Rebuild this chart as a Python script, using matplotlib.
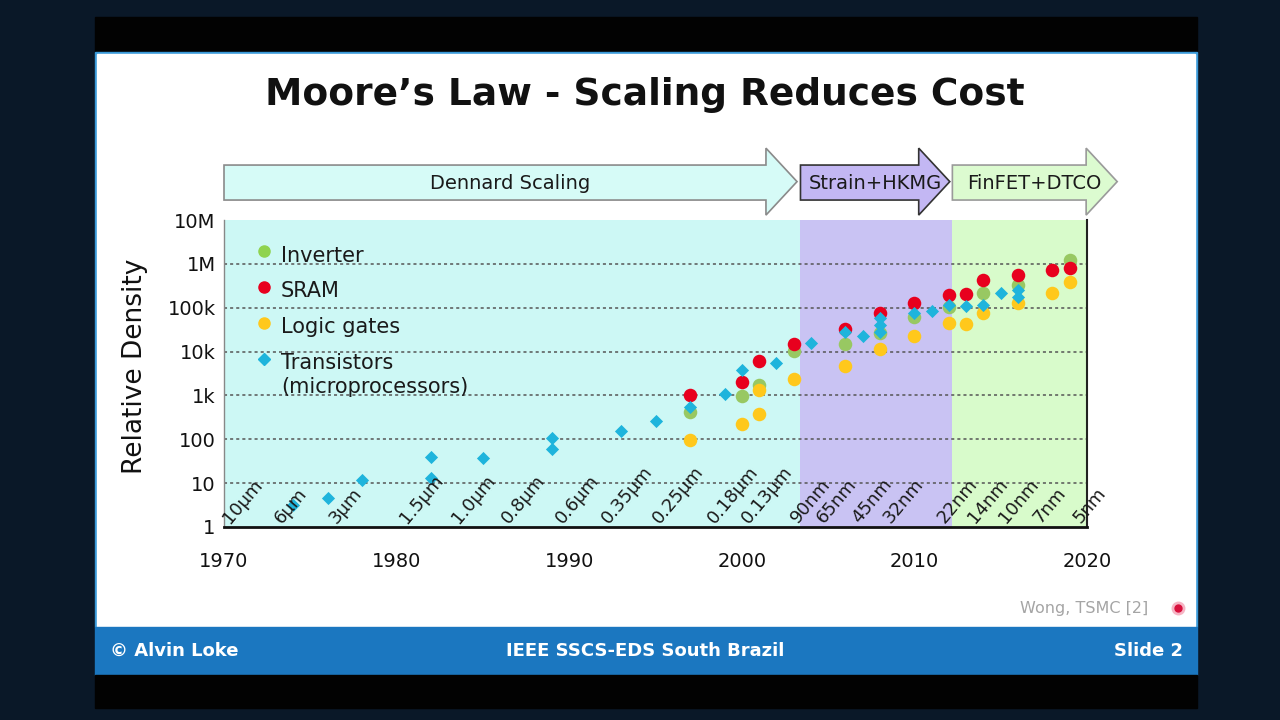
# Moore's Law slide - relative density vs year

import numpy as np
import matplotlib
matplotlib.use('Agg')
from matplotlib import pyplot as plt
from matplotlib.patches import Polygon, Rectangle
from matplotlib.lines import Line2D
from matplotlib.transforms import blended_transform_factory

# datos
years_inv = [1997, 2000, 2001, 2003, 2006, 2008, 2010, 2012, 2014, 2016, 2019]
inverter = [430, 950, 1750, 10500, 14700, 27000, 62000, 105000, 215000, 330000, 1230000]

years_sram = [1997, 2000, 2001, 2003, 2006, 2008, 2010, 2012, 2013, 2014, 2016, 2018, 2019]
sram = [1030, 2000, 6200, 15000, 32000, 75000, 126000, 196000, 205000, 425000, 560000, 725000, 820000]

years_logic = [1997, 2000, 2001, 2001, 2003, 2006, 2008, 2010, 2012, 2013, 2014, 2016, 2018, 2019]
logic = [97, 225, 1300, 380, 2400, 4700, 11300, 22800, 44000, 43500, 75000, 126000, 220000, 380000]

years_tr = [1974, 1976, 1978, 1982, 1982, 1985, 1989, 1989, 1993, 1995, 1997, 1999, 2000, 2002,
            2004, 2006, 2007, 2008, 2008, 2008, 2010, 2011, 2012, 2013, 2014, 2015, 2016, 2016]
transistors = [3.2, 4.7, 12, 39, 13, 38, 105, 60, 155, 255, 540, 1100, 3800, 5600,
               15500, 28500, 23000, 58000, 40000, 28000, 75000, 82000, 115000, 112000, 116000,
               220000, 250000, 180000]

nodes = ["10µm", "6µm", "3µm", "1.5µm", "1.0µm", "0.8µm", "0.6µm", "0.35µm", "0.25µm",
         "0.18µm", "0.13µm", "90nm", "65nm", "45nm", "32nm", "22nm", "14nm", "10nm", "7nm", "5nm"]
node_x = [1970.5, 1973.5, 1976.7, 1980.8, 1983.8, 1986.7, 1989.8, 1992.5, 1995.4, 1998.6,
          2000.6, 2003.4, 2004.9, 2007.0, 2008.8, 2011.9, 2013.7, 2015.5, 2017.5, 2019.8]

eras = ["Dennard Scaling", "Strain+HKMG", "FinFET+DTCO"]
era_start = [1970, 2003.4, 2012.2]
era_end = [2003.4, 2012.2, 2020]
arrow_tip = [2003.2, 2012.05, 2021.75]

ytick_vals = [1, 10, 100, 1e3, 1e4, 1e5, 1e6, 1e7]
ytick_labels = ["1", "10", "100", "1k", "10k", "100k", "1M", "10M"]
xtick_vals = [1970, 1980, 1990, 2000, 2010, 2020]

W, H = 1280, 720
fig = plt.figure(figsize=(12.8, 7.2), dpi=100, facecolor='#0a1828')

def px_rect(x0, y0, x1, y1, color):
    fig.add_artist(Rectangle((x0 / W, 1 - y1 / H), (x1 - x0) / W, (y1 - y0) / H,
                             transform=fig.transFigure, color=color, zorder=-5))

# marco de la diapositiva
px_rect(95, 17, 1197, 52, '#020202')
px_rect(95, 52, 1197, 627, '#3a9ad9')
px_rect(97, 54, 1195, 627, 'white')
px_rect(95, 627, 1197, 675, '#1b77c0')
px_rect(95, 675, 1197, 708, '#020202')

fig.text(0.504, 0.868, "Moore’s Law - Scaling Reduces Cost", ha='center', va='center',
         fontsize=27, fontweight='bold', color='#111111')

ax = fig.add_axes([224 / W, 1 - 527 / H, 863 / W, 307 / H])
ax.set_facecolor('none')
ax.set_yscale('log')
ax.set_xlim(1970, 2020)
ax.set_ylim(1, 1e7)

shade = ['#cdf8f5', '#c9c3f3', '#d8fbcb']
for s, e, c in zip(era_start, era_end, shade):
    ax.axvspan(s, e, color=c, lw=0, zorder=0)

for v in ytick_vals[1:-1]:
    ax.axhline(v, color='#555555', lw=1.1, ls=(0, (2, 2)), zorder=1)

ax.scatter(years_inv, inverter, s=95, color='#98c862', lw=0, zorder=3)
ax.scatter(years_sram, sram, s=95, color='#e8001e', lw=0, zorder=4)
ax.scatter(years_logic, logic, s=95, color='#ffc81c', lw=0, zorder=5)
ax.scatter(years_tr, transistors, s=45, marker='D', color='#1eb4dc', lw=0, zorder=6)

for lab, x in zip(nodes, node_x):
    ax.text(x, 1, lab, rotation=50, ha='left', va='bottom', rotation_mode='anchor',
            fontsize=13, color='#1a1a1a', zorder=7)

# leyenda
leg_y = [0.899, 0.782, 0.664, 0.547]
leg_txt_y = [0.883, 0.769, 0.651, 0.495]
leg_lab = ["Inverter", "SRAM", "Logic gates", "Transistors\n(microprocessors)"]
leg_col = ['#8fd34f', '#e8001e', '#ffc81c', '#1eb4dc']
leg_mk = ['o', 'o', 'o', 'D']
for yy, ty, lab, c, m in zip(leg_y, leg_txt_y, leg_lab, leg_col, leg_mk):
    ax.plot(0.046, yy, marker=m, ms=8 if m == 'o' else 6, color=c, transform=ax.transAxes,
            clip_on=False, zorder=8, lw=0)
    ax.text(0.066, ty, lab, transform=ax.transAxes, ha='left', va='center', fontsize=15,
            color='#1a1a1a', linespacing=1.25, zorder=8)

# flechas de las etapas
bt = blended_transform_factory(ax.transData, ax.transAxes)
arrow_fc = ['#d6fbf7', '#c3b7f3', '#dcfbd0']
arrow_ec = ['#8a8a8a', '#333333', '#9a9a9a']
for name, s, tip, fc, ec in zip(eras, era_start, arrow_tip, arrow_fc, arrow_ec):
    hb = tip - 1.8
    verts = [(s, 1.065), (hb, 1.065), (hb, 1.016), (tip, 1.125), (hb, 1.234), (hb, 1.179), (s, 1.179)]
    ax.add_patch(Polygon(verts, closed=True, transform=bt, fc=fc, ec=ec, lw=1.2,
                         clip_on=False, zorder=9))
    ax.text((s + tip) / 2, 1.12, name, transform=bt, ha='center', va='center', fontsize=14,
            color='#1a1a1a', zorder=10)

ax.set_yticks(ytick_vals)
ax.set_yticklabels(ytick_labels)
ax.set_xticks(xtick_vals)
ax.set_xticklabels([str(x) for x in xtick_vals])
ax.minorticks_off()
ax.tick_params(axis='both', length=0, labelsize=14, colors='#111111')
ax.tick_params(axis='y', pad=6)
ax.tick_params(axis='x', pad=18)
ax.set_ylabel('Relative Density', fontsize=19, color='#111111')
ax.yaxis.set_label_coords(-0.088, 0.524)

ax.spines['top'].set_visible(False)
ax.spines['left'].set_color('#888888')
ax.spines['left'].set_linewidth(1)
ax.spines['bottom'].set_color('#111111')
ax.spines['bottom'].set_linewidth(2)
ax.spines['right'].set_color('#222222')
ax.spines['right'].set_linewidth(1.5)

# pie de la diapositiva
fig.text(1148 / W, 1 - 608 / H, "Wong, TSMC [2]", ha='right', va='center', fontsize=11.5,
         color='#a5a5a5')
fig.add_artist(Line2D([1178 / W], [1 - 608 / H], marker='o', ms=9, color='#f6b4c4', lw=0,
                      transform=fig.transFigure, zorder=5))
fig.add_artist(Line2D([1178 / W], [1 - 608 / H], marker='o', ms=5, color='#d8103c', lw=0,
                      transform=fig.transFigure, zorder=6))
fig.text(110 / W, 1 - 651 / H, "© Alvin Loke", ha='left', va='center', fontsize=13,
         fontweight='bold', color='white')
fig.text(645 / W, 1 - 651 / H, "IEEE SSCS-EDS South Brazil", ha='center', va='center',
         fontsize=13, fontweight='bold', color='white')
fig.text(1183 / W, 1 - 651 / H, "Slide 2", ha='right', va='center', fontsize=13,
         fontweight='bold', color='white')

plt.savefig('out.png', dpi=100, facecolor=fig.get_facecolor())
